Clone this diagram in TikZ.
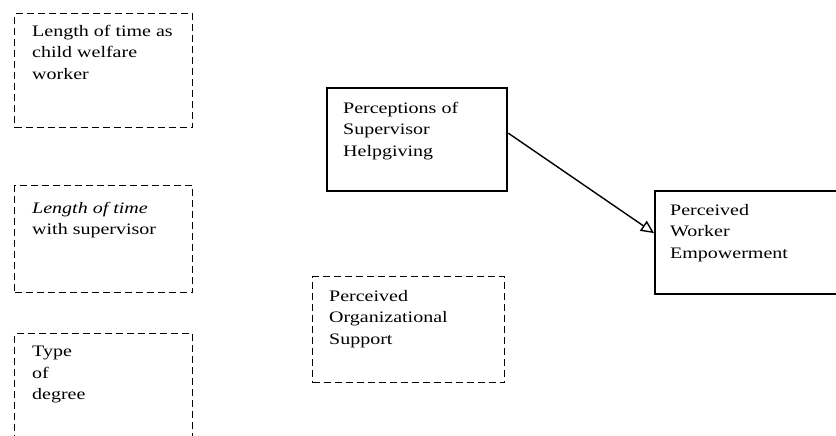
\documentclass[tikz,border=0pt]{standalone}
\usepackage{fontspec}
\setmainfont{Liberation Serif}[FakeStretch=1.25]
\usetikzlibrary{arrows.meta}
\begin{document}
\begin{tikzpicture}[x=1pt,y=-1pt,
  dbox/.style={draw,dash pattern=on 7pt off 4pt,line width=1.3pt,inner sep=0pt,anchor=north west},
  sbox/.style={draw,line width=2.2pt,inner sep=0pt,anchor=north west},
  lbl/.style={anchor=north west,align=left,inner sep=0pt,font=\fontsize{16}{21.5}\selectfont}
]
\useasboundingbox (0,0) rectangle (836,436);
\clip (0,0) rectangle (836,436);
% boxes
\node[dbox,minimum width=178pt,minimum height=114pt] (b1) at (14,13) {};
\node[dbox,minimum width=178pt,minimum height=107pt] (b2) at (14,185) {};
\node[dbox,minimum width=178pt,minimum height=115pt] (b3) at (14,333) {};
\node[sbox,minimum width=180pt,minimum height=103pt] (b4) at (326,87) {};
\node[sbox,minimum width=200pt,minimum height=103pt] (b5) at (654,190) {};
\node[dbox,minimum width=192pt,minimum height=106pt] (b6) at (312,276) {};
% labels
\node[lbl] (t1) at (32,25) {Length of time as\\child welfare\\worker};
\node[lbl] (t2) at (32,202) {\textit{Length of time}\\with supervisor};
\node[lbl] (t3) at (32,346) {Type\\of\\degree};
\node[lbl] (t4) at (343,102) {Perceptions of\\Supervisor\\Helpgiving};
\node[lbl] (t5) at (670,204) {Perceived\\Worker\\Empowerment};
\node[lbl] (t6) at (329,290) {Perceived\\Organizational\\Support};
% connector
\draw[line width=1.4pt,-{Triangle[open,length=13pt,width=12pt,line width=1.4pt]}]
  ([yshift=6.5pt]b4.east) -- ([yshift=9.5pt]b5.west);
\end{tikzpicture}
\end{document}
